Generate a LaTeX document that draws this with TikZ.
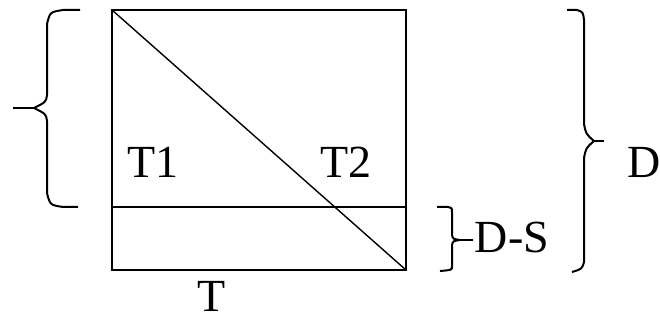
\documentclass[tikz,border=0pt]{standalone}
\usepackage{fontspec}
\setmainfont{Liberation Serif}

\begin{document}
\begin{tikzpicture}[x=0.5pt,y=-0.5pt,line width=1pt,
    lbl/.style={inner sep=0pt,font=\fontsize{23}{28}\selectfont}]
  \useasboundingbox (0,0) rectangle (660,320);
  % Corners of the box.
  \coordinate (nw) at (112,10);
  \coordinate (se) at (406,270);
  % Box and the strip at its foot (y = 207).
  \draw (nw) rectangle (se);
  \coordinate (sl) at (112,207);
  \coordinate (sr) at (406,207);
  \draw (sl) -- (sr);
  % Diagonal, corner to corner.
  \draw[line width=0.7pt] (nw) -- (se);
  % Left brace over the upper part (tip at x = 13).
  \draw (80,10) -- (63,10) .. controls (50,12) .. (47,24) -- (47,95)
        .. controls (46,102) .. (34,108) .. controls (46,114) .. (47,121)
        -- (47,193) .. controls (50,205) .. (63,207) -- (78,207);
  \draw (13,108) -- (34,108);
  % Big right brace, whole height.
  \draw (567,10) -- (577,10) .. controls (583,12) .. (584,20) -- (584,124)
        .. controls (586,134) .. (594,141) .. controls (586,148) .. (584,158)
        -- (584,262) .. controls (582,269) .. (572,272);
  \draw (594,141) -- (604,141);
  % Small right brace, the strip only.
  \draw (437,207) -- (448,207) .. controls (452,208) .. (452,212) -- (452,235)
        .. controls (453,239) .. (460,240) .. controls (453,241) .. (452,245)
        -- (452,266) .. controls (452,270) .. (440,271);
  \draw (460,240) -- (473,240);
  % Labels.
  \node[lbl] (t1) at (153,162) {T1};
  \node[lbl] (t2) at (346,162) {T2};
  \node[lbl] (d) at (644,162) {D};
  \node[lbl] (ds) at (512,237) {D-S};
  \node[lbl] (t) at (212,296) {T};
\end{tikzpicture}
\end{document}
